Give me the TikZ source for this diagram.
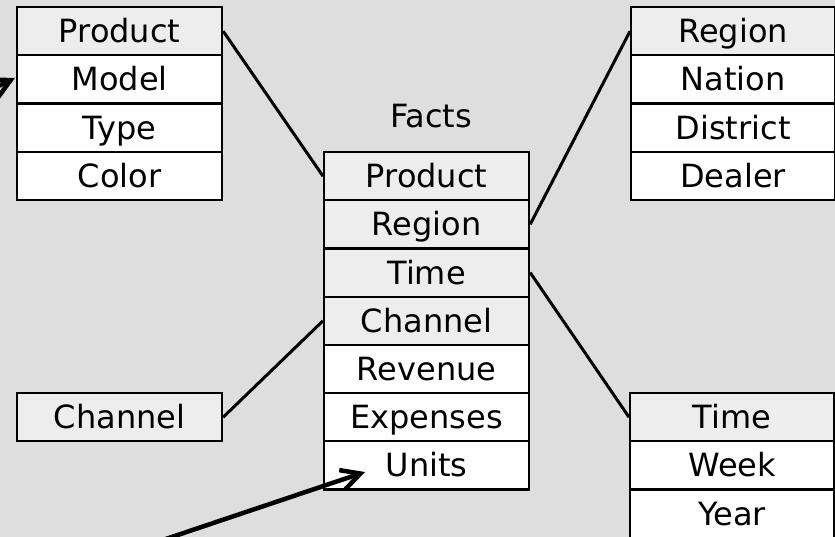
\documentclass[tikz,border=0pt]{standalone}
\usepackage{fontspec}
\setmainfont{DejaVu Sans}
\usetikzlibrary{arrows.meta}
\definecolor{bg}{HTML}{DEDEDE}
\definecolor{keyfill}{HTML}{EDEDED}

\begin{document}
\begin{tikzpicture}[x=1pt,y=-1pt,
  cell/.style={draw=black, line width=2.2pt, minimum width=205pt, minimum height=48.2pt,
    inner sep=0pt, text height=23pt, text depth=0pt,
    font=\fontsize{32}{36}\selectfont, anchor=north west, fill=white},
  keycell/.style={cell, fill=keyfill},
  rcell/.style={cell, minimum width=204pt},
  rkeycell/.style={keycell, minimum width=204pt},
  link/.style={line width=3pt},
  pointer/.style={line width=4.5pt, line join=miter,
    -{Straight Barb[length=19pt,width=20pt,line width=4.5pt]}},
]
\useasboundingbox (0,0) rectangle (835,537);
\fill[bg] (0,0) rectangle (835,537);
\clip (0,0) rectangle (835,537);

% Product dimension
\node[keycell] (prod1) at (16,6)     {Product};
\node[cell]    (prod2) at (16,54.2)  {Model};
\node[cell]    (prod3) at (16,102.4) {Type};
\node[cell]    (prod4) at (16,150.6) {Color};

% Region dimension
\node[rkeycell] (reg1) at (630,6)     {Region};
\node[rcell]    (reg2) at (630,54.2)  {Nation};
\node[rcell]    (reg3) at (630,102.4) {District};
\node[rcell]    (reg4) at (630,150.6) {Dealer};

% Fact table
\node[font=\fontsize{32}{36}\selectfont, text height=23pt, text depth=0pt, inner sep=0pt]
  (factstitle) at (431,116.5) {Facts};
\node[keycell] (facts1) at (323,151)   {Product};
\node[keycell] (facts2) at (323,199.2) {Region};
\node[keycell] (facts3) at (323,247.4) {Time};
\node[keycell] (facts4) at (323,295.6) {Channel};
\node[cell]    (facts5) at (323,343.8) {Revenue};
\node[cell]    (facts6) at (323,392)   {Expenses};
\node[cell]    (facts7) at (323,440.2) {Units};

% Channel dimension
\node[keycell] (chan1) at (16,392) {Channel};

% Time dimension
\node[rkeycell] (time1) at (629,392)   {Time};
\node[rcell]    (time2) at (629,440.2) {Week};
\node[rcell]    (time3) at (629,488.4) {Year};

% Key links
\draw[link] (prod1.east) -- (facts1.west);
\draw[link] (facts2.east) -- (reg1.west);
\draw[link] (facts3.east) -- (time1.west);
\draw[link] (facts4.west) -- (chan1.east);

% Pointers
\coordinate (modelfrom) at (-30,100);
\coordinate (modeltip) at (15,78);
\draw[pointer] (modelfrom) -- (modeltip);
\coordinate (unitsfrom) at (142,547);
\coordinate (unitstip) at (365,472);
\draw[pointer] (unitsfrom) -- (unitstip);
\end{tikzpicture}
\end{document}
